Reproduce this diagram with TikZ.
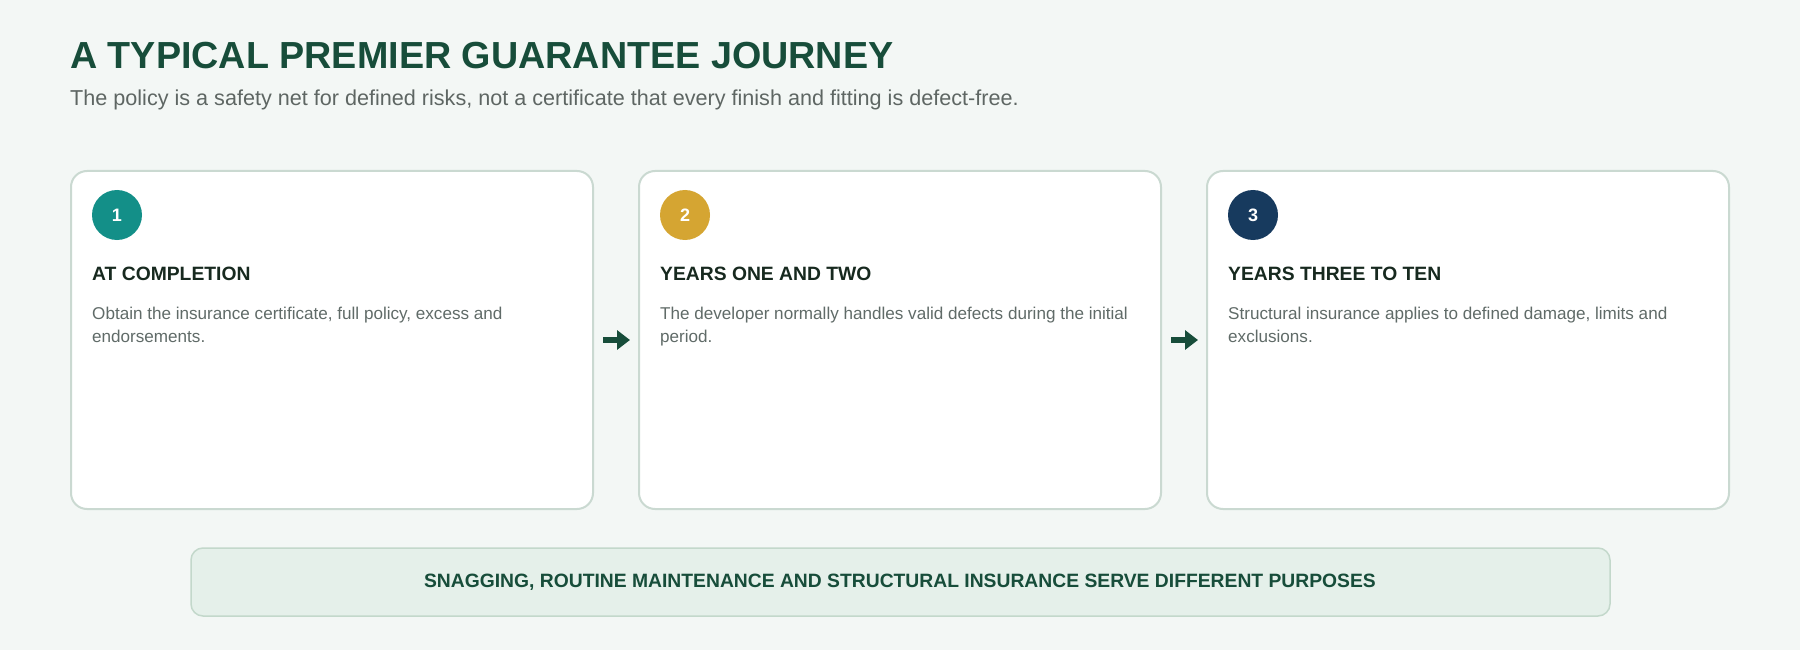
\documentclass[tikz,border=0pt]{standalone}
\usepackage{fontspec}
\setmainfont{Liberation Sans}
\usetikzlibrary{arrows.meta}
\definecolor{bg}{HTML}{F3F7F5}
\definecolor{cardline}{HTML}{CAD9D1}
\definecolor{titlegreen}{HTML}{174D3A}
\definecolor{subgray}{HTML}{5E6663}
\definecolor{headdark}{HTML}{17291F}
\definecolor{bodygray}{HTML}{606B68}
\definecolor{teal}{HTML}{138F88}
\definecolor{gold}{HTML}{D5A532}
\definecolor{navy}{HTML}{173A5E}
\definecolor{bannerfill}{HTML}{E5F0EA}
\definecolor{bannerline}{HTML}{C3D8CB}
\definecolor{arrowgreen}{HTML}{174D3A}
\tikzset{
  card/.style={draw=cardline, line width=2pt, fill=white, rounded corners=16pt,
    minimum width=522pt, minimum height=338pt, inner sep=0pt},
  badge/.style={circle, minimum size=50pt, inner sep=0pt, text=white,
    font=\fontsize{18}{21}\selectfont\bfseries},
  txt/.style={inner sep=0pt, anchor=base west},
  cardhead/.style={txt, text=headdark, font=\fontsize{19.3}{23}\selectfont\bfseries},
  cardbody/.style={txt, text=bodygray, font=\fontsize{17.1}{23}\selectfont},
  flow/.style={draw=arrowgreen, line width=6.5pt, -{Triangle[length=13pt,width=19pt]},
    shorten <=9pt, shorten >=8pt},
}
\begin{document}
\begin{tikzpicture}[x=1pt,y=-1pt]
\path[fill=bg] (0,0) rectangle (1800,650);
\useasboundingbox (0,0) rectangle (1800,650);

\node[txt, text=titlegreen, font=\fontsize{37.7}{43}\selectfont\bfseries] (title) at (70,68.5)
  {A TYPICAL PREMIER GUARANTEE JOURNEY};
\node[txt, text=subgray, font=\fontsize{21.6}{26}\selectfont] (sub) at (70,106)
  {The policy is a safety net for defined risks, not a certificate that every finish and fitting is defect-free.};

\node[card] (c1) at (332,340) {};
\node[card] (c2) at (900,340) {};
\node[card] (c3) at (1468,340) {};

\node[badge, fill=teal] (b1) at (117,215) {1};
\node[badge, fill=gold] (b2) at (685,215) {2};
\node[badge, fill=navy] (b3) at (1253,215) {3};

\node[cardhead] (h1) at (92,280) {AT COMPLETION};
\node[cardhead] (h2) at (660,280) {YEARS ONE AND TWO};
\node[cardhead] (h3) at (1228,280) {YEARS THREE TO TEN};

\node[cardbody] (t1a) at (92,319) {Obtain the insurance certificate, full policy, excess and};
\node[cardbody] (t1b) at (92,342) {endorsements.};
\node[cardbody] (t2a) at (660,319) {The developer normally handles valid defects during the initial};
\node[cardbody] (t2b) at (660,342) {period.};
\node[cardbody] (t3a) at (1228,319) {Structural insurance applies to defined damage, limits and};
\node[cardbody] (t3b) at (1228,342) {exclusions.};

\draw[flow] (c1.east) -- (c2.west);
\draw[flow] (c2.east) -- (c3.west);

\node[draw=bannerline, line width=1.5pt, fill=bannerfill, rounded corners=12pt,
  minimum width=1419pt, minimum height=68pt, inner sep=0pt] (banner) at (900.5,582) {};
\node[inner sep=0pt, anchor=base, text=titlegreen, font=\fontsize{19.3}{22}\selectfont\bfseries] (bt) at (900,587)
  {SNAGGING, ROUTINE MAINTENANCE AND STRUCTURAL INSURANCE SERVE DIFFERENT PURPOSES};
\end{tikzpicture}
\end{document}
